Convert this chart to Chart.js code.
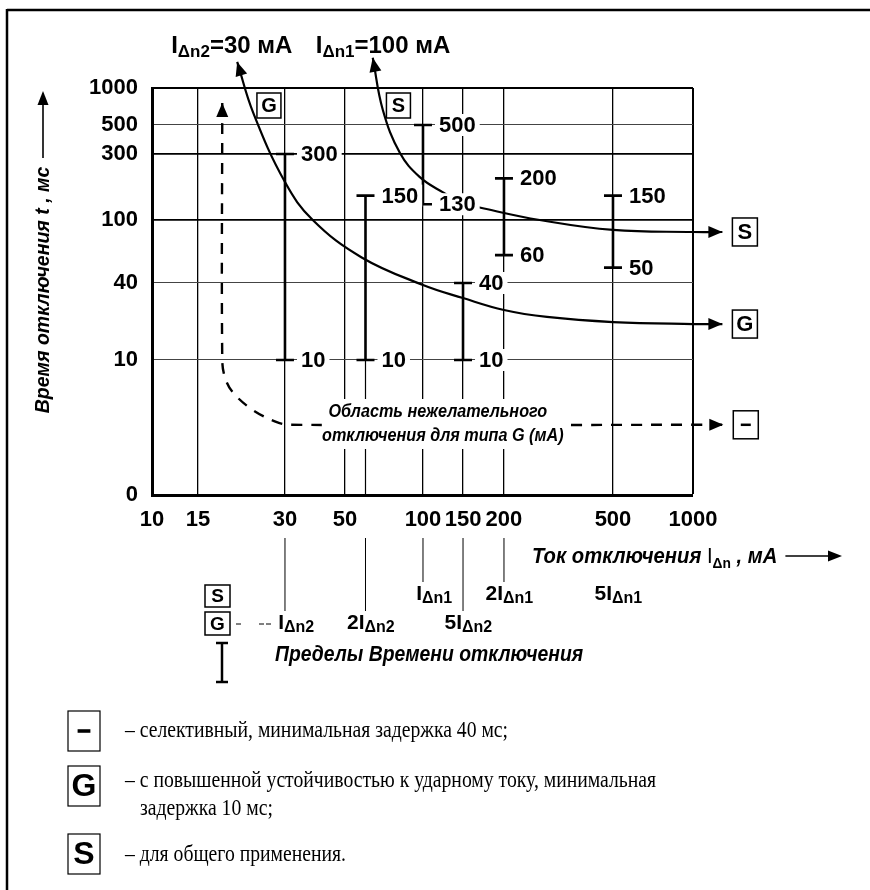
<!DOCTYPE html>
<html lang="ru">
<head>
<meta charset="utf-8">
<title>Время отключения УЗО</title>
<script src="https://cdn.jsdelivr.net/npm/chart.js@4.4.1/dist/chart.umd.min.js"></script>
<style>
  html, body { margin: 0; padding: 0; background: #fff; }
  #wrap { position: relative; width: 870px; height: 890px; }
</style>
</head>
<body>
<div id="wrap"><canvas id="tripChart"></canvas></div>
<script>
// деления осей
const currentTicks = [10, 15, 30, 50, 100, 150, 200, 500, 1000];   // мА
const timeTicks    = [0, 10, 40, 100, 300, 500, 1000];              // мс

// пределы времени отключения
const limitCurrents = [30, 60, 100, 150, 200, 500];
const limitMin      = [10, 10, 130, 10, 60, 50];
const limitMax      = [300, 150, 500, 40, 200, 150];

// характеристика G (IΔn2 = 30 мА)
const curveGCurrent = [20.5, 23.3, 30, 38, 58, 100, 150, 200, 287, 500, 1000, 1290];
const curveGTime    = [1630, 627, 188, 100, 58, 38.6, 30.5, 24.6, 21.7, 19.8, 19.1, 19.1];

// характеристика S (IΔn1 = 100 мА)
const curveSCurrent = [64, 70, 81.5, 97, 122, 150, 177, 270, 500, 1000, 1290];
const curveSTime    = [1760, 662, 305, 205, 159, 133, 120, 100, 86.5, 84, 84];

// граница области нежелательного отключения
const zoneCurrent = [18.2, 18.2, 18.6, 19.8, 23.2, 28.1, 31.3, 1000, 1300];
const zoneTime    = [755, 10, 8.7, 7.6, 6.3, 5.4, 5.2, 5.2, 5.2];

// кратности номинальных токов под осью
const multCoef    = ['', '2', '5', '', '2', '5'];
const multSub     = ['Δn2', 'Δn2', 'Δn2', 'Δn1', 'Δn1', 'Δn1'];
const multCurrent = [30, 60, 150, 100, 200, 500];
const multRow     = [1, 1, 1, 0, 0, 0];
const multLine    = [true, true, true, true, true, false];

// легенда
const legendKeys  = ['–', 'G', 'S'];
const legendTexts = [
    ['– селективный, минимальная задержка 40 мс;'],
    ['– с повышенной устойчивостью к ударному току, минимальная', 'задержка 10 мс;'],
    ['– для общего применения.']
];

const SANS  = "'Liberation Sans', Arial, sans-serif";
const SERIF = "'Liberation Serif', 'Times New Roman', serif";

// шкала с делениями, расставленными как на рисунке (лог. интерполяция между ними)
class CalibratedScale extends Chart.Scale {
    determineDataLimits() {
        const v = this.options.values;
        this.min = v[0];
        this.max = v[v.length - 1];
    }
    buildTicks() {
        return this.options.values.map(value => ({ value }));
    }
    getLabelForValue(value) {
        return String(value);
    }
    toDecimal(value) {
        const v = this.options.values, f = this.options.calib, n = v.length;
        let i = 0;
        while (i < n - 2 && value > v[i + 1]) i++;
        const a = v[i], b = v[i + 1];
        const t = a <= 0 ? (value - a) / (b - a) : Math.log(value / a) / Math.log(b / a);
        return f[i] + t * (f[i + 1] - f[i]);
    }
    getPixelForValue(value) {
        return this.getPixelForDecimal(this.toDecimal(value));
    }
    getValueForPixel(pixel) {
        const d = this.getDecimalForPixel(pixel);
        const v = this.options.values, f = this.options.calib;
        let i = 0;
        while (i < v.length - 2 && d > f[i + 1]) i++;
        const t = (d - f[i]) / (f[i + 1] - f[i]);
        return v[i] <= 0 ? v[i] + t * (v[i + 1] - v[i]) : v[i] * Math.pow(v[i + 1] / v[i], t);
    }
}
CalibratedScale.id = 'calibrated';
CalibratedScale.defaults = {};
Chart.register(CalibratedScale);

const toPoints = (xs, ys) => xs.map((v, i) => ({ x: v, y: ys[i] }));

const limitData = [];
limitCurrents.forEach((c, i) => {
    limitData.push({ x: c, y: limitMin[i] }, { x: c, y: limitMax[i] }, { x: c, y: null });
});
// тонкие линии для пределов, у которых нет своей линии сетки
const guideData = [];
limitCurrents.forEach((c, i) => {
    if (!currentTicks.includes(c)) {
        guideData.push({ x: c, y: timeTicks[0] }, { x: c, y: limitMin[i] }, { x: c, y: null });
    }
});

// --- вспомогательные функции рисования ---
function say(ctx, s, px, py, font, align = 'left', sx = 1, base = 'middle') {
    ctx.save();
    ctx.translate(px, py);
    ctx.scale(sx, 1);
    ctx.font = font;
    ctx.textAlign = align;
    ctx.textBaseline = base;
    ctx.fillStyle = '#000';
    ctx.fillText(s, 0, 0);
    ctx.restore();
}

// текст из частей: [текст, шрифт, сдвиг по y]
function rich(ctx, parts, px, py, align = 'left', sx = 1) {
    let total = 0;
    const ws = parts.map(([t, f]) => { ctx.font = f; const w = ctx.measureText(t).width * sx; total += w; return w; });
    let cx = align === 'center' ? px - total / 2 : align === 'right' ? px - total : px;
    parts.forEach(([t, f, dy], i) => { say(ctx, t, cx, py + (dy || 0), f, 'left', sx, 'alphabetic'); cx += ws[i]; });
    return total;
}

function whiteLabel(ctx, s, px, py, font) {
    ctx.font = font;
    const w = ctx.measureText(s).width;
    ctx.fillStyle = '#fff';
    ctx.fillRect(px - 4, py - 11, w + 8, 22);
    say(ctx, s, px, py + 1, font);
}

function arrowHead(ctx, tx, ty, fx, fy, len = 14, half = 6) {
    const a = Math.atan2(ty - fy, tx - fx);
    ctx.save();
    ctx.translate(tx, ty);
    ctx.rotate(a);
    ctx.beginPath();
    ctx.moveTo(0, 0);
    ctx.lineTo(-len, -half);
    ctx.lineTo(-len, half);
    ctx.closePath();
    ctx.fillStyle = '#000';
    ctx.fill();
    ctx.restore();
}

function keyBox(ctx, key, left, top, w, h, size, lw = 1.5) {
    ctx.save();
    ctx.fillStyle = '#fff';
    ctx.fillRect(left, top, w, h);
    ctx.strokeStyle = '#000';
    ctx.lineWidth = lw;
    ctx.strokeRect(left, top, w, h);
    if (key === '–') {
        ctx.lineWidth = Math.max(2.5, size / 9);
        ctx.beginPath();
        ctx.moveTo(left + w * 0.3, top + h / 2);
        ctx.lineTo(left + w * 0.7, top + h / 2);
        ctx.stroke();
    } else {
        say(ctx, key, left + w / 2, top + h / 2 + 1, `bold ${size}px ${SANS}`, 'center');
    }
    ctx.restore();
}

function line(ctx, x1, y1, x2, y2, w = 1) {
    ctx.save();
    ctx.strokeStyle = '#000';
    ctx.lineWidth = w;
    ctx.beginPath();
    ctx.moveTo(x1, y1);
    ctx.lineTo(x2, y2);
    ctx.stroke();
    ctx.restore();
}

const NUM  = `bold 22px ${SANS}`;
const MAIN = sz => `bold ${sz}px ${SANS}`;
const ITAL = sz => `italic bold ${sz}px ${SANS}`;

const drawings = {
    id: 'drawings',
    afterDraw(chart) {
        const { ctx, chartArea: area, scales: { x, y } } = chart;

        // рамка рисунка
        line(ctx, 7, 10, 870, 10, 2.5);
        line(ctx, 7, 9, 7, 890, 2.5);

        // подписи пределов
        limitCurrents.forEach((c, i) => {
            const px = x.getPixelForValue(c) + 16;
            whiteLabel(ctx, String(limitMax[i]), px, y.getPixelForValue(limitMax[i]), NUM);
            whiteLabel(ctx, String(limitMin[i]), px, y.getPixelForValue(limitMin[i]), NUM);
        });

        // стрелки и обозначения на концах кривых
        const ends = [[2, 'G'], [3, 'S'], [4, '–']];
        ends.forEach(([idx, key]) => {
            const pts = chart.getDatasetMeta(idx).data;
            const n = pts.length;
            arrowHead(ctx, pts[0].x, pts[0].y, pts[1].x, pts[1].y);
            arrowHead(ctx, pts[n - 1].x, pts[n - 1].y, pts[n - 2].x, pts[n - 2].y);
            keyBox(ctx, key, pts[n - 1].x + 10, pts[n - 1].y - 14, 25, 28, 22);
        });

        // обозначения G и S у верхней границы
        keyBox(ctx, 'G', x.getPixelForValue(26.4) - 12, area.top + 5, 24, 25, 20);
        keyBox(ctx, 'S', x.getPixelForValue(80.4) - 12, area.top + 5, 24, 25, 20);

        // подписи номинальных токов над графиком
        const g0 = chart.getDatasetMeta(2).data[0];
        const s0 = chart.getDatasetMeta(3).data[0];
        rich(ctx, [['I', MAIN(24)], ['Δn2', MAIN(17), 4], ['=30 мА', MAIN(24)]], g0.x - 66, 53);
        rich(ctx, [['I', MAIN(24)], ['Δn1', MAIN(17), 4], ['=100 мА', MAIN(24)]], s0.x - 57, 53);

        // область нежелательного отключения
        const cx = x.getPixelForValue(121);
        ctx.fillStyle = '#fff';
        ctx.fillRect(cx - 120, 399, 242, 50);
        say(ctx, 'Область нежелательного', cx - 4, 412, ITAL(18), 'center', 0.9);
        say(ctx, 'отключения для типа G (мА)', cx + 1, 436, ITAL(18), 'center', 0.9);

        // название оси времени
        ctx.save();
        ctx.translate(43, 290);
        ctx.rotate(-Math.PI / 2);
        say(ctx, 'Время отключения t , мс', 0, 0, ITAL(21), 'center', 0.93);
        line(ctx, 132, 0, 190, 0, 1.6);
        arrowHead(ctx, 199, 0, 180, 0, 14, 5.5);
        ctx.restore();

        // название оси тока
        const w = rich(ctx, [['Ток отключения ', ITAL(22)], ['I', `22px ${SANS}`], ['Δn', MAIN(15), 5], [' , мА', ITAL(22)]], 532, 563, 'left', 0.92);
        line(ctx, 532 + w + 8, 556, 830, 556, 1.6);
        arrowHead(ctx, 842, 556, 820, 556, 14, 5.5);

        // кратности номинальных токов
        multCurrent.forEach((c, i) => {
            const px = x.getPixelForValue(c);
            const base = multRow[i] ? 629 : 600;
            if (multLine[i]) line(ctx, px, area.bottom + 43, px, base - 18, 1);
            ctx.font = MAIN(21);
            const mw = ctx.measureText(multCoef[i] + 'I').width;
            rich(ctx, [[multCoef[i] + 'I', MAIN(21)], [multSub[i], MAIN(16), 3]], px - mw - 1, base);
        });

        // пояснение к пределам
        keyBox(ctx, 'S', 205, 585, 25, 22, 19);
        keyBox(ctx, 'G', 205, 612, 25, 23, 19);
        line(ctx, 236, 624, 241, 624, 1);
        line(ctx, 259, 624, 264, 624, 1);
        line(ctx, 266, 624, 271, 624, 1);
        line(ctx, 222, 643, 222, 682, 2.5);
        line(ctx, 216, 643, 228, 643, 2.5);
        line(ctx, 216, 682, 228, 682, 2.5);
        say(ctx, 'Пределы Времени отключения', 275, 655, ITAL(22), 'left', 0.88);

        // легенда
        const tops = [711, 766, 834];
        const rows = [[731], [781, 809], [855]];
        legendKeys.forEach((k, i) => {
            keyBox(ctx, k, 68, tops[i], 32, 40, 32, 1.2);
            legendTexts[i].forEach((t, j) => {
                say(ctx, t, 125 + (j ? 15 : 0), rows[i][j], `24px ${SERIF}`, 'left', 0.82);
            });
        });
    }
};

const xGridWidth = v => v === currentTicks[0] ? 0 : v === currentTicks[currentTicks.length - 1] ? 2 : 1.3;
const yGridWidth = v => v === timeTicks[0] ? 0 : v === timeTicks[timeTicks.length - 1] ? 2 : (v === 300 || v === 100) ? 1.7 : 1;

new Chart(document.getElementById('tripChart'), {
    type: 'line',
    data: {
        datasets: [
            {
                data: guideData,
                borderColor: '#000',
                borderWidth: 1.2,
                pointRadius: 0,
                spanGaps: false
            },
            {
                data: limitData,
                borderColor: '#000',
                borderWidth: 2.6,
                pointStyle: 'line',
                pointRadius: 9,
                pointBorderWidth: 2.6,
                pointBorderColor: '#000',
                spanGaps: false
            },
            {
                data: toPoints(curveGCurrent, curveGTime),
                borderColor: '#000',
                borderWidth: 2.2,
                pointRadius: 0,
                tension: 0.4,
                clip: false
            },
            {
                data: toPoints(curveSCurrent, curveSTime),
                borderColor: '#000',
                borderWidth: 2.2,
                pointRadius: 0,
                tension: 0.4,
                clip: false
            },
            {
                data: toPoints(zoneCurrent, zoneTime),
                borderColor: '#000',
                borderWidth: 2.4,
                borderDash: [11, 9],
                pointRadius: 0,
                tension: 0.35,
                clip: false
            }
        ]
    },
    options: {
        responsive: true,
        maintainAspectRatio: false,
        animation: false,
        devicePixelRatio: 1,
        events: [],
        layout: { padding: { left: 52, right: 177, top: 88, bottom: 355 } },
        plugins: {
            legend: { display: false },
            tooltip: { enabled: false }
        },
        scales: {
            x: {
                type: 'calibrated',
                position: 'bottom',
                values: currentTicks,
                calib: [0, 0.0850, 0.2458, 0.3567, 0.5009, 0.5749, 0.6506, 0.8521, 1],
                grid: {
                    drawTicks: false,
                    color: '#000',
                    lineWidth: ctx => xGridWidth(ctx.tick.value)
                },
                border: { width: 3, color: '#000' },
                ticks: {
                    autoSkip: false,
                    maxRotation: 0,
                    padding: 12,
                    color: '#000',
                    font: { family: SANS, size: 22, weight: 'bold' }
                },
                afterFit: s => { s.height = 40; }
            },
            y: {
                type: 'calibrated',
                position: 'left',
                values: timeTicks,
                calib: [0, 0.3317, 0.5209, 0.6757, 0.8378, 0.9091, 1],
                grid: {
                    drawTicks: false,
                    color: ctx => yGridWidth(ctx.tick.value) > 1 ? '#000' : '#444',
                    lineWidth: ctx => yGridWidth(ctx.tick.value)
                },
                border: { width: 3, color: '#000' },
                ticks: {
                    autoSkip: false,
                    padding: 14,
                    color: '#000',
                    font: { family: SANS, size: 22, weight: 'bold' }
                },
                afterFit: s => { s.width = 100; }
            }
        }
    },
    plugins: [drawings]
});
</script>
</body>
</html>
